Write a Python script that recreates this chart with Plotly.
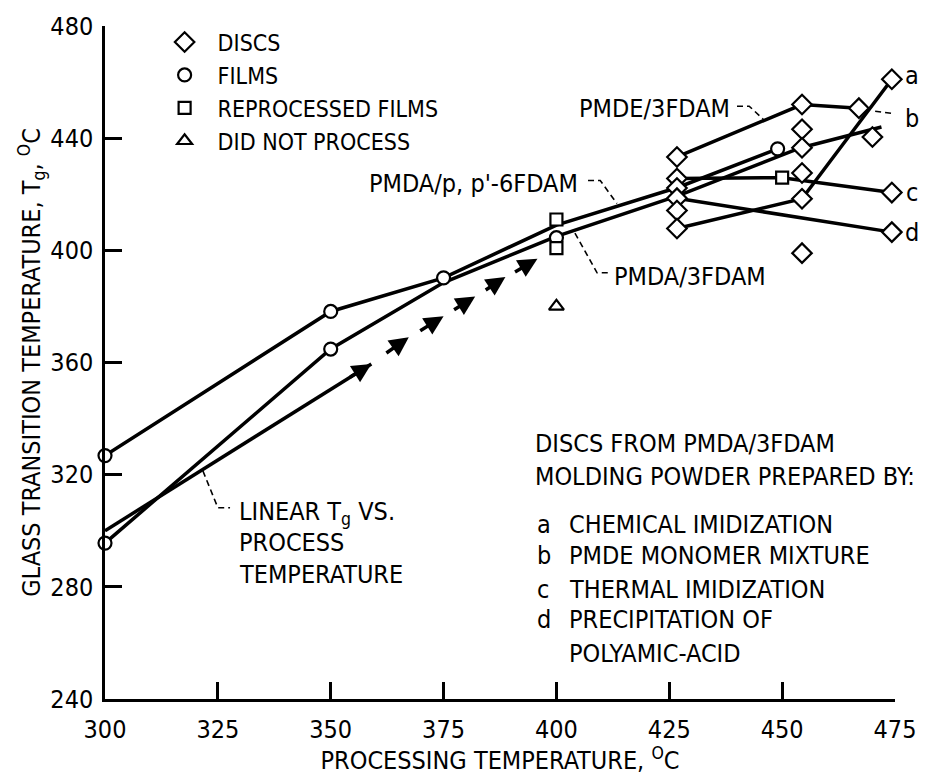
import plotly.graph_objects as go

FONT = "Liberation Sans Narrow, DejaVu Sans Condensed, Arial Narrow, sans-serif"
FS = 25

# ---- film lines ----
p6_x = [300, 350, 375, 400, 427, 449]
p6_y = [326.8, 378.2, 390.2, 409, 422.5, 436.2]
p3_x = [300, 350, 375, 400, 427, 454, 472]
p3_y = [295.6, 364.8, 388.5, 405, 419.5, 436.5, 444]

# ---- disc lines (a..d) ----
a_x = [426.7, 454.4, 474.3]; a_y = [407.8, 418.4, 461]
b_x = [426.7, 454.4, 467]; b_y = [433.3, 452, 450.7]
c_x = [426.7, 450, 474.3]; c_y = [425.6, 425.9, 420.6]
d_x = [426.7, 474.3]; d_y = [418.6, 406.5]

# ---- linear Tg vs process temperature ----
lin_x = [300, 359]; lin_y = [300, 359.5]
dash_x0 = [362, 369.5, 377, 384, 390.5]
dash_y0 = [363, 371, 378.5, 385.5, 392]
dash_x1 = [367.3, 375, 382, 388.7, 395.8]
dash_y1 = [369, 376.5, 383.5, 390.5, 397]

# ---- markers ----
disc_x = [426.7]*6 + [454.4]*6 + [467, 470, 474.3, 474.3, 474.3]
disc_y = [433.3, 425.6, 422.2, 418.6, 414.2, 407.8,
          452, 443.2, 436.6, 427.6, 418.4, 399,
          450.7, 440.4, 461, 420.6, 406.5]
film_x = [300, 300, 350, 350, 375, 400, 449]
film_y = [326.8, 295.6, 378.2, 364.8, 390.2, 404.5, 436.2]
rep_x = [400, 400, 450]
rep_y = [411, 400.8, 425.9]
dnp_x = [400]
dnp_y = [380]

x_ticks = [300, 325, 350, 375, 400, 425, 450, 475]
y_ticks = [240, 280, 320, 360, 400, 440, 480]

fig = go.Figure()
LW = 3.5
for xs, ys in [(p6_x, p6_y), (p3_x, p3_y), (a_x, a_y), (b_x, b_y),
               (c_x, c_y), (d_x, d_y), (lin_x, lin_y)]:
    fig.add_trace(go.Scatter(x=xs, y=ys, mode="lines", showlegend=False,
                             line=dict(color="black", width=LW), hoverinfo="skip"))

mk = dict(color="white", line=dict(color="black", width=2.2))
fig.add_trace(go.Scatter(x=disc_x, y=disc_y, mode="markers", name="DISCS",
                         marker=dict(symbol="diamond", size=15, **mk), cliponaxis=False))
fig.add_trace(go.Scatter(x=film_x, y=film_y, mode="markers", name="FILMS",
                         marker=dict(symbol="circle", size=13, **mk), cliponaxis=False))
fig.add_trace(go.Scatter(x=rep_x, y=rep_y, mode="markers", name="REPROCESSED FILMS",
                         marker=dict(symbol="square", size=12, **mk), cliponaxis=False))
fig.add_trace(go.Scatter(x=dnp_x, y=dnp_y, mode="markers", name="DID NOT PROCESS",
                         marker=dict(symbol="triangle-up", size=13, **mk), cliponaxis=False))

ann = []
# arrow at end of solid linear segment
ann.append(dict(x=lin_x[1], y=lin_y[1], ax=lin_x[1]-5, ay=lin_y[1]-5, axref="x", ayref="y",
                xref="x", yref="y", text="", showarrow=True, arrowhead=2, arrowsize=1.1,
                arrowwidth=LW, arrowcolor="black"))
for x0, y0, x1, y1 in zip(dash_x0, dash_y0, dash_x1, dash_y1):
    ann.append(dict(x=x1, y=y1, ax=x0, ay=y0, axref="x", ayref="y", xref="x", yref="y",
                    text="", showarrow=True, arrowhead=2, arrowsize=1.1,
                    arrowwidth=LW, arrowcolor="black"))

def txt(x, y, s, xanchor="left", xshift=0):
    ann.append(dict(x=x, y=y, xref="x", yref="y", text=s, showarrow=False,
                    xanchor=xanchor, yanchor="middle", xshift=xshift, align="left",
                    font=dict(family=FONT, size=FS, color="black")))

txt(438.9, 450.7, "PMDE/3FDAM", "right")
txt(405.2, 423.8, "PMDA/p, p'-6FDAM", "right")
txt(412.3, 390.6, "PMDA/3FDAM")
lin_lab = ["LINEAR T<sub>g</sub> VS.", "PROCESS", "TEMPERATURE"]
lin_lab_y = [306.4, 295.8, 284.5]
for s, y in zip(lin_lab, lin_lab_y):
    txt(329.2, y, s)
hdr = ["DISCS FROM PMDA/3FDAM", "MOLDING POWDER PREPARED BY:"]
hdr_y = [331.2, 319.5]
for s, y in zip(hdr, hdr_y):
    txt(394.8, y, s)
keys = ["a", "b", "c", "d"]
key_txt = ["CHEMICAL IMIDIZATION", "PMDE MONOMER MIXTURE", "THERMAL IMIDIZATION",
           "PRECIPITATION OF", "POLYAMIC-ACID"]
key_y = [302.2, 291.2, 279.2, 268.3, 256.2]
for k, y in zip(keys, key_y):
    txt(395.3, y, k)
for s, y in zip(key_txt, key_y):
    txt(402.3, y, s)
end_y = [462.3, 447.1, 420.6, 406.5]
for k, y in zip(keys, end_y):
    txt(475, y, k, "center", xshift=17)

# dashed leaders
leaders = [
    ([440.0, 442.7, 445.8], [451.4, 451.4, 446.8]),
    ([407.0, 409.7, 413.4], [424.9, 424.9, 416.7]),
    ([404.1, 409.0, 411.4], [406.1, 392.0, 392.0]),
    ([321.7, 325.0, 327.7], [321.3, 308.2, 308.2]),
    ([470.6, 475.0], [449.6, 448.7]),
]
shapes = []
for xs, ys in leaders:
    path = "M " + " L ".join(f"{x},{y}" for x, y in zip(xs, ys))
    shapes.append(dict(type="path", path=path, xref="x", yref="y",
                       line=dict(color="black", width=1.6, dash="6px,4px")))

axis_common = dict(showline=True, linecolor="black", linewidth=2.5, ticks="inside",
                   ticklen=17, tickwidth=2.5, tickcolor="black", showgrid=False,
                   zeroline=False, tickfont=dict(family=FONT, size=FS, color="black"),
                   mirror=False)

fig.update_layout(
    width=928, height=775,
    margin=dict(l=105, r=33, t=24, b=72),
    paper_bgcolor="white", plot_bgcolor="white",
    font=dict(family=FONT, size=FS, color="black"),
    xaxis=dict(range=[300, 475], tickvals=x_ticks, ticklabelstandoff=6,
               title=dict(text="PROCESSING TEMPERATURE, <sup>O</sup>C", standoff=2,
                          font=dict(family=FONT, size=FS)),
               **axis_common),
    yaxis=dict(range=[240, 480], tickvals=y_ticks, ticklabelstandoff=4,
               title=dict(text="GLASS TRANSITION TEMPERATURE, T<sub>g</sub>, <sup>O</sup>C",
                          standoff=3, font=dict(family=FONT, size=FS)),
               **axis_common),
    legend=dict(x=0.059, y=1.008, xanchor="left", yanchor="top", bgcolor="rgba(0,0,0,0)",
                font=dict(family=FONT, size=23, color="black"), itemwidth=56,
                tracegroupgap=0),
    annotations=ann,
    shapes=shapes,
    showlegend=True,
)

fig.write_html("out.html", config={"displayModeBar": False},
               post_script="document.body.style.margin='0px';")
